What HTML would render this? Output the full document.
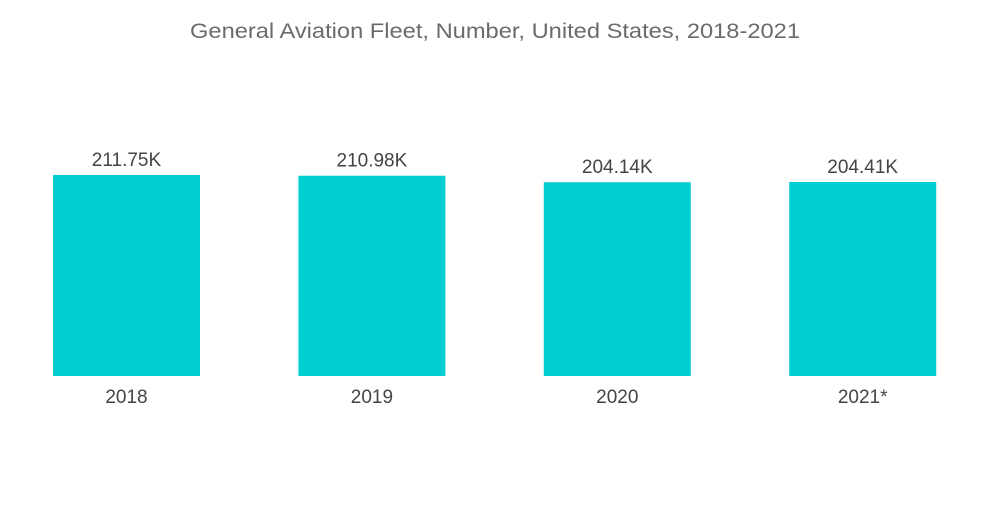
<!DOCTYPE html>
<html>
<head>
<meta charset="utf-8">
<style>
  html,body{margin:0;padding:0;background:#fff;}
  body{width:1000px;height:504px;overflow:hidden;font-family:"Liberation Sans",sans-serif;}
</style>
</head>
<body>
<svg id="chart" width="1000" height="504" viewBox="0 0 1000 504" xmlns="http://www.w3.org/2000/svg">
  <text x="190" y="38" textLength="610" lengthAdjust="spacingAndGlyphs" font-family="Liberation Sans, sans-serif" font-size="21" fill="#6b6b6b">General Aviation Fleet, Number, United States, 2018-2021</text>
  <g id="bars"></g>
</svg>
<script>
const categories = ["2018", "2019", "2020", "2021*"];
const values = [211.75, 210.98, 204.14, 204.41];
const valueLabels = ["211.75K", "210.98K", "204.14K", "204.41K"];

const svg = document.getElementById('bars');
const NS = 'http://www.w3.org/2000/svg';
const baseY = 376, plotH = 201 / 211.75;
const x0 = 53, step = 245.4, barW = 147;
function xPos(i){ return x0 + i * step; }
function yPos(v){ return baseY - v * plotH; }

categories.forEach((c, i) => {
  const x = xPos(i), y = yPos(values[i]);
  const r = document.createElementNS(NS, 'rect');
  r.setAttribute('x', x); r.setAttribute('y', y);
  r.setAttribute('width', barW); r.setAttribute('height', baseY - y);
  r.setAttribute('fill', '#00ced1');
  
  
  svg.appendChild(r);

  const vl = document.createElementNS(NS, 'text');
  vl.setAttribute('x', x + barW / 2); vl.setAttribute('y', y - 9);
  vl.setAttribute('text-anchor', 'middle');
  vl.setAttribute('font-size', '19'); vl.setAttribute('fill', '#444');
  vl.setAttribute('font-family', 'Liberation Sans, sans-serif');
  vl.textContent = valueLabels[i];
  
  
  svg.appendChild(vl);

  const cl = document.createElementNS(NS, 'text');
  cl.setAttribute('x', x + barW / 2); cl.setAttribute('y', 403);
  cl.setAttribute('text-anchor', 'middle');
  cl.setAttribute('font-size', '19'); cl.setAttribute('fill', '#444');
  cl.setAttribute('font-family', 'Liberation Sans, sans-serif');
  cl.textContent = c;
  
  
  svg.appendChild(cl);
});
</script>
</body>
</html>
